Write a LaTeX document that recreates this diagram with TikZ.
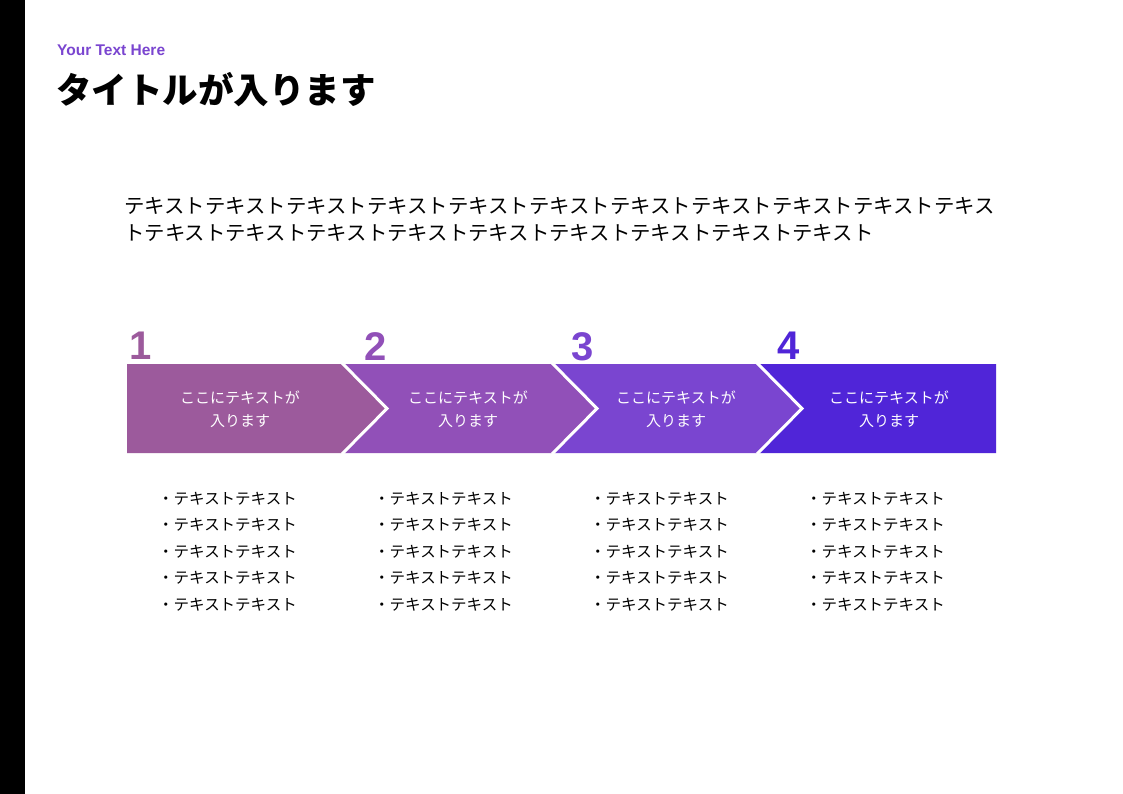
\documentclass[tikz,border=0pt]{standalone}
\usepackage{fontspec}
\setmainfont{Noto Sans CJK JP}
\newfontfamily\numfont{Liberation Sans}
\definecolor{stepA}{HTML}{9C5A9C}
\definecolor{stepB}{HTML}{9150B8}
\definecolor{stepC}{HTML}{7A45D0}
\definecolor{stepD}{HTML}{5025D8}
\begin{document}
\begin{tikzpicture}[x=1pt,y=-1pt,
  cut/.style={draw=white,line width=3pt},
  steplbl/.style={text=white,font=\fontsize{15}{23}\selectfont,align=center},
  numlbl/.style={font=\numfont\bfseries\fontsize{40}{40}\selectfont,anchor=north west,inner sep=0pt},
  itemlbl/.style={font=\fontsize{15.5}{26.5}\selectfont,align=left,anchor=north west,inner sep=0pt}]
	%canvas
	\useasboundingbox (0,0) rectangle (1123,794);
	\fill[white] (0,0) rectangle (1123,794);
	\fill[black] (0,0) rectangle (25,794);

	%header
	\node[anchor=west,inner sep=0pt,text=stepC,font=\numfont\bfseries\fontsize{15.5}{15.5}\selectfont] (sub) at (57,50) {Your Text Here};
	\node[anchor=west,inner sep=0pt,font=\bfseries\fontsize{35.5}{35.5}\selectfont] (title) at (56,90) {タイトルが入ります};
	\node[anchor=north west,inner sep=0pt,align=left,font=\fontsize{20.4}{27}\selectfont] (body) at (124,197)
	  {テキストテキストテキストテキストテキストテキストテキストテキストテキストテキストテキス\\トテキストテキストテキストテキストテキストテキストテキストテキストテキスト};

	%numbers
	\node[numlbl,text=stepA] (n1) at (129,332) {1};
	\node[numlbl,text=stepB] (n2) at (364,332) {2};
	\node[numlbl,text=stepC] (n3) at (571,332) {3};
	\node[numlbl,text=stepD] (n4) at (777,332) {4};

	%chevrons
	\fill[stepA] (127,364) -- (342,364) -- (387,408.5) -- (342,453) -- (127,453) -- cycle;
	\fill[stepB] (342,364) -- (552,364) -- (597,408.5) -- (552,453) -- (342,453) -- (387,408.5) -- cycle;
	\fill[stepC] (552,364) -- (757,364) -- (802,408.5) -- (757,453) -- (552,453) -- (597,408.5) -- cycle;
	\fill[stepD] (757,364) -- (996,364) -- (996,453) -- (757,453) -- (802,408.5) -- cycle;
	\foreach \a in {342,552,757}
	  \draw[cut] (\a,363) -- (\a+45,408.5) -- (\a,454); %white gaps

	%labels
	\node[steplbl] (s1) at (240,409) {ここにテキストが\\入ります};
	\node[steplbl] (s2) at (468,409) {ここにテキストが\\入ります};
	\node[steplbl] (s3) at (676,409) {ここにテキストが\\入ります};
	\node[steplbl] (s4) at (889,409) {ここにテキストが\\入ります};

	%lists
	\foreach \x/\n in {158/i1,374/i2,590/i3,806/i4}
	  \node[itemlbl] (\n) at (\x,492) {・テキストテキスト\\・テキストテキスト\\・テキストテキスト\\・テキストテキスト\\・テキストテキスト};
\end{tikzpicture}
\end{document}
